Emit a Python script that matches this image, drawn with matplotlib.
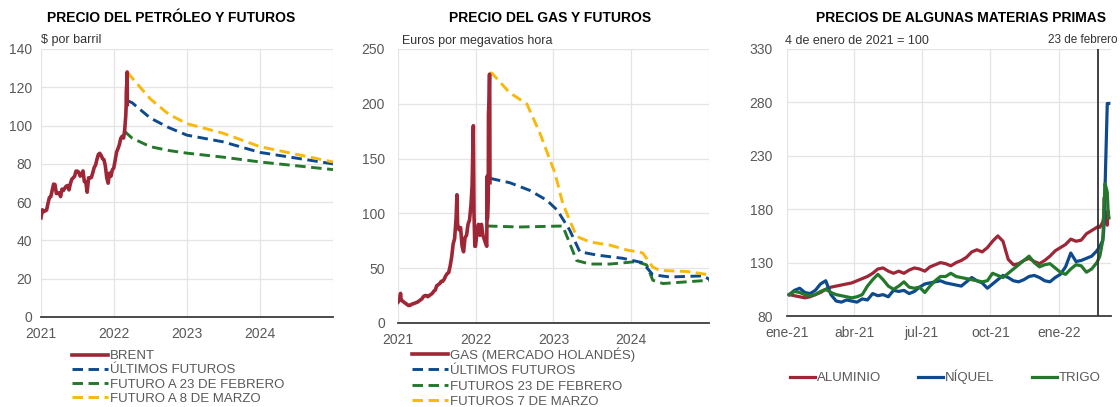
import numpy as np
import pandas as pd
import matplotlib
matplotlib.use("Agg")
import matplotlib.pyplot as plt

plt.rcParams['font.family'] = ['Liberation Sans', 'DejaVu Sans']

# colours
ROJO = '#9e2636'
AZUL = '#0d4a8e'
VERDE = '#24782c'
AMARILLO = '#f8b90c'
GRIS = '#595959'

# ---------------- petróleo ----------------
brent_fechas = [
    '2021-01-01', '2021-01-08', '2021-01-15', '2021-01-22', '2021-01-29', '2021-02-05',
    '2021-02-12', '2021-02-19', '2021-02-26', '2021-03-05', '2021-03-12', '2021-03-19',
    '2021-03-26', '2021-04-02', '2021-04-09', '2021-04-16', '2021-04-23', '2021-04-30',
    '2021-05-07', '2021-05-14', '2021-05-21', '2021-05-28', '2021-06-04', '2021-06-11',
    '2021-06-18', '2021-06-25', '2021-07-02', '2021-07-09', '2021-07-16', '2021-07-23',
    '2021-07-30', '2021-08-06', '2021-08-13', '2021-08-20', '2021-08-27', '2021-09-03',
    '2021-09-10', '2021-09-17', '2021-09-24', '2021-10-01', '2021-10-08', '2021-10-15',
    '2021-10-22', '2021-10-29', '2021-11-05', '2021-11-12', '2021-11-19', '2021-11-26',
    '2021-12-03', '2021-12-10', '2021-12-17', '2021-12-24', '2021-12-31', '2022-01-07',
    '2022-01-14', '2022-01-21', '2022-01-28', '2022-02-04', '2022-02-11', '2022-02-18',
    '2022-02-23', '2022-03-01', '2022-03-03', '2022-03-04', '2022-03-07', '2022-03-08',
    '2022-03-09']
brent = [
    51.8, 56.0, 55.1, 55.4, 55.9, 59.3, 62.4, 62.9, 66.1, 69.4, 69.2, 64.5,
    64.6, 64.9, 62.9, 66.8, 66.1, 67.3, 68.3, 68.7, 66.4, 69.6, 71.9, 72.7,
    73.5, 76.2, 76.2, 75.6, 73.6, 74.1, 76.3, 70.7, 70.6, 65.2, 72.7, 72.6,
    72.9, 75.3, 78.1, 79.3, 82.4, 84.9, 85.5, 84.4, 82.7, 82.2, 78.9, 72.7,
    69.9, 75.2, 73.5, 76.9, 77.8, 81.8, 86.1, 87.9, 90.0, 93.3, 94.4, 93.5,
    96.8, 105.0, 110.0, 118.0, 123.0, 128.0, 111.0]

fut_pet_fechas = ['2022-03-09', '2022-04-01', '2022-07-01', '2022-10-01', '2023-01-01',
                  '2023-07-01', '2024-01-01', '2024-07-01', '2025-01-01']
fut_pet_ultimos = [113, 112, 104, 99, 95, 91.5, 86, 83, 80]
fut_pet_8mar = [128, 125, 114, 106, 101, 96, 89, 85, 81]
fut_pet_23feb_fechas = ['2022-02-23', '2022-04-01', '2022-07-01', '2022-10-01', '2023-01-01',
                        '2023-07-01', '2024-01-01', '2024-07-01', '2025-01-01']
fut_pet_23feb = [97, 93.5, 89, 87, 85.6, 83.5, 81, 79, 77]

# ---------------- gas ----------------
gas_fechas = [
    '2021-01-01', '2021-01-08', '2021-01-13', '2021-01-15', '2021-01-22', '2021-01-29',
    '2021-02-05', '2021-02-12', '2021-02-19', '2021-02-26', '2021-03-05', '2021-03-12',
    '2021-03-19', '2021-03-26', '2021-04-02', '2021-04-09', '2021-04-16', '2021-04-23',
    '2021-04-30', '2021-05-07', '2021-05-14', '2021-05-21', '2021-05-28', '2021-06-04',
    '2021-06-11', '2021-06-18', '2021-06-25', '2021-07-02', '2021-07-09', '2021-07-16',
    '2021-07-23', '2021-07-30', '2021-08-06', '2021-08-13', '2021-08-20', '2021-08-27',
    '2021-09-03', '2021-09-10', '2021-09-17', '2021-09-24', '2021-10-01', '2021-10-05',
    '2021-10-08', '2021-10-15', '2021-10-22', '2021-10-29', '2021-11-05', '2021-11-12',
    '2021-11-19', '2021-11-26', '2021-12-03', '2021-12-10', '2021-12-15', '2021-12-21',
    '2021-12-24', '2021-12-28', '2021-12-31', '2022-01-07', '2022-01-14', '2022-01-21',
    '2022-01-28', '2022-02-04', '2022-02-11', '2022-02-18', '2022-02-22', '2022-02-24',
    '2022-02-25', '2022-03-01', '2022-03-02', '2022-03-03', '2022-03-04', '2022-03-07',
    '2022-03-08', '2022-03-09']
gas = [
    19, 21, 27, 22, 20, 19, 18, 17, 16, 16, 17, 17.5,
    18, 18.5, 19, 20, 21, 22, 24, 25, 25, 24, 25, 26,
    27, 29, 30, 34, 35, 36, 38, 38, 40, 43, 45, 46,
    52, 60, 72, 77, 96, 117, 90, 85, 87, 70, 65, 78,
    80, 90, 94, 108, 125, 180, 100, 70, 70, 83, 90, 80,
    90, 80, 76, 72, 70, 134, 95, 115, 190, 195, 200, 227,
    210, 128]

fut_gas_7mar_fechas = ['2022-03-07', '2022-03-18', '2022-06-10', '2022-08-29', '2022-10-30',
                       '2023-01-08', '2023-02-14', '2023-03-18', '2023-04-20', '2023-06-21',
                       '2023-09-24', '2023-12-13', '2024-02-24', '2024-04-12', '2024-05-15',
                       '2024-09-20', '2025-01-01']
fut_gas_7mar = [228, 228, 210, 200, 173, 137, 109, 94, 79, 74, 71, 66.6, 64, 51, 48, 47, 44]

fut_gas_ultimos_fechas = ['2022-03-09', '2022-06-10', '2022-09-12', '2022-12-01', '2023-01-19',
                          '2023-03-18', '2023-05-05', '2023-07-24', '2023-11-24', '2024-02-24',
                          '2024-04-12', '2024-07-01', '2024-12-05', '2025-01-01']
fut_gas_ultimos = [132, 128, 121, 112, 103, 85, 65, 62, 59, 55, 44, 42, 43, 40]

fut_gas_23feb_fechas = ['2022-02-23', '2022-07-27', '2023-02-14', '2023-03-18', '2023-04-20',
                        '2023-06-21', '2023-09-24', '2024-01-26', '2024-03-14', '2024-04-12',
                        '2024-05-30', '2024-09-20', '2025-01-01']
fut_gas_23feb = [88.5, 87.6, 88.5, 73, 57, 53.8, 53.8, 56, 53, 39, 36, 37.6, 39]

# ---------------- materias primas (4 ene 2021 = 100) ----------------
mp_fechas = [
    '2021-01-04', '2021-01-11', '2021-01-18', '2021-01-25', '2021-02-01', '2021-02-08',
    '2021-02-15', '2021-02-22', '2021-03-01', '2021-03-08', '2021-03-15', '2021-03-22',
    '2021-03-29', '2021-04-05', '2021-04-12', '2021-04-19', '2021-04-26', '2021-05-03',
    '2021-05-10', '2021-05-17', '2021-05-24', '2021-05-31', '2021-06-07', '2021-06-14',
    '2021-06-21', '2021-06-28', '2021-07-05', '2021-07-12', '2021-07-19', '2021-07-26',
    '2021-08-02', '2021-08-09', '2021-08-16', '2021-08-23', '2021-08-30', '2021-09-06',
    '2021-09-13', '2021-09-20', '2021-09-27', '2021-10-04', '2021-10-11', '2021-10-18',
    '2021-10-25', '2021-11-01', '2021-11-08', '2021-11-15', '2021-11-22', '2021-11-29',
    '2021-12-06', '2021-12-13', '2021-12-20', '2021-12-27', '2022-01-03', '2022-01-10',
    '2022-01-17', '2022-01-24', '2022-01-31', '2022-02-07', '2022-02-14', '2022-02-21',
    '2022-02-23', '2022-02-25', '2022-03-01', '2022-03-02', '2022-03-03', '2022-03-04',
    '2022-03-07', '2022-03-08', '2022-03-09']
aluminio = [
    100, 99, 98, 97, 98, 100, 102, 105, 107, 108, 109, 110,
    111, 113, 115, 117, 120, 124, 125, 122, 120, 122, 120, 123,
    125, 124, 122, 126, 128, 130, 129, 127, 130, 132, 135, 140,
    142, 140, 144, 150, 155, 150, 133, 128, 129, 132, 134, 131,
    129, 132, 136, 141, 144, 147, 152, 150, 151, 157, 160, 163,
    164, 163, 168, 172, 191, 175, 165, 178, 172]
niquel = [
    100, 104, 106, 102, 101, 104, 110, 113, 100, 94, 93, 95,
    94, 93, 96, 95, 101, 99, 100, 98, 104, 103, 104, 101,
    103, 107, 110, 111, 112, 113, 111, 110, 109, 108, 112, 116,
    113, 111, 106, 110, 114, 118, 116, 113, 112, 114, 117, 118,
    116, 113, 112, 116, 119, 126, 139, 131, 132, 134, 136, 141,
    143, 145, 151, 158, 170, 200, 279, 279, 279]
trigo = [
    100, 103, 102, 100, 99, 100, 103, 105, 102, 100, 99, 98,
    97, 98, 100, 108, 114, 119, 114, 108, 105, 108, 112, 107,
    106, 107, 102, 108, 113, 117, 117, 120, 117, 116, 115, 114,
    113, 112, 113, 120, 118, 116, 120, 124, 128, 132, 136, 130,
    126, 128, 129, 125, 121, 119, 124, 128, 127, 121, 124, 130,
    133, 136, 151, 170, 188, 204, 196, 180, 172]

fecha_linea = '2022-02-23'


def fd(lista):
    return pd.to_datetime(lista)


def estilo(ax, ymin, ymax, ystep, ypad):
    ax.set_ylim(ymin, ymax)
    ax.set_yticks(np.arange(ymin, ymax + 1, ystep))
    ax.grid(True, color='#e4e4e4', lw=0.9)
    ax.set_axisbelow(True)
    for s in ['top', 'right', 'left']:
        ax.spines[s].set_visible(False)
    ax.spines['bottom'].set_color('#3c3c3c')
    ax.spines['bottom'].set_linewidth(1.3)
    ax.spines['bottom'].set_zorder(5)
    ax.tick_params(axis='both', length=0, labelsize=10, labelcolor=GRIS)
    ax.tick_params(axis='y', pad=ypad)
    ax.tick_params(axis='x', pad=7)


def ejes_anuales(ax):
    ticks = fd(['2021-01-01', '2022-01-01', '2023-01-01', '2024-01-01', '2025-01-01'])
    ax.set_xticks(ticks)
    ax.set_xticklabels(['2021', '2022', '2023', '2024', ''])
    ax.set_xlim(ticks[0], ticks[-1])


fig = plt.figure(figsize=(11.2, 4.07), dpi=100)
W, H = 1120.0, 407.0


def caja(x0, x1, ytop, ybot):
    return [x0 / W, 1 - ybot / H, (x1 - x0) / W, (ybot - ytop) / H]


guion = (0, (3.6, 1.9))
orden = [3, 1, 0, 2]

# panel 1
ax1 = fig.add_axes(caja(41, 333, 49, 317))
estilo(ax1, 0, 140, 20, 6.5)
ejes_anuales(ax1)
ax1.plot(fd(fut_pet_23feb_fechas), fut_pet_23feb, color=VERDE, lw=2.1, ls=guion,
         label='FUTURO A 23 DE FEBRERO')
ax1.plot(fd(fut_pet_fechas), fut_pet_ultimos, color=AZUL, lw=2.1, ls=guion,
         label='ÚLTIMOS FUTUROS')
ax1.plot(fd(fut_pet_fechas), fut_pet_8mar, color=AMARILLO, lw=2.1, ls=guion,
         label='FUTURO A 8 DE MARZO')
ax1.plot(fd(brent_fechas), brent, color=ROJO, lw=2.6, label='BRENT')
h, l = ax1.get_legend_handles_labels()
fig.legend([h[i] for i in orden], [l[i] for i in orden], loc='upper left',
           bbox_to_anchor=(72 / W, 1 - 350 / H), frameon=False, fontsize=9.5,
           labelcolor=GRIS, handlelength=2.7, handletextpad=0.2, labelspacing=0.15,
           borderpad=0, borderaxespad=0)

# panel 2
ax2 = fig.add_axes(caja(398, 709, 49, 323))
estilo(ax2, 0, 250, 50, 9.5)
ejes_anuales(ax2)
ax2.plot(fd(fut_gas_23feb_fechas), fut_gas_23feb, color=VERDE, lw=2.1, ls=guion,
         label='FUTUROS 23 DE FEBRERO')
ax2.plot(fd(fut_gas_ultimos_fechas), fut_gas_ultimos, color=AZUL, lw=2.1, ls=guion,
         label='ÚLTIMOS FUTUROS')
ax2.plot(fd(fut_gas_7mar_fechas), fut_gas_7mar, color=AMARILLO, lw=2.1, ls=guion,
         label='FUTUROS 7 DE MARZO')
ax2.plot(fd(gas_fechas), gas, color=ROJO, lw=2.6, label='GAS (MERCADO HOLANDÉS)')
h, l = ax2.get_legend_handles_labels()
fig.legend([h[i] for i in orden], [l[i] for i in orden], loc='upper left',
           bbox_to_anchor=(412 / W, 1 - 347 / H), frameon=False, fontsize=9.5,
           labelcolor=GRIS, handlelength=2.7, handletextpad=0.2, labelspacing=0.25,
           borderpad=0, borderaxespad=0)

# panel 3
ax3 = fig.add_axes(caja(787, 1111, 49, 316))
estilo(ax3, 80, 330, 50, 10)
t3 = fd(['2021-01-01', '2021-04-01', '2021-07-01', '2021-10-01', '2022-01-01'])
ax3.set_xticks(t3)
ax3.set_xticklabels(['ene-21', 'abr-21', 'jul-21', 'oct-21', 'ene-22'])
ax3.set_xlim(pd.Timestamp('2021-01-01'), pd.Timestamp('2022-03-12'))
ax3.plot(fd(mp_fechas), aluminio, color=ROJO, lw=2.3, label='ALUMINIO')
ax3.plot(fd(mp_fechas), niquel, color=AZUL, lw=2.3, label='NÍQUEL')
ax3.plot(fd(mp_fechas), trigo, color=VERDE, lw=2.3, label='TRIGO')
ax3.axvline(pd.Timestamp(fecha_linea), color='#333333', lw=1.3, zorder=6)
ax3.annotate('23 de febrero', xy=(pd.Timestamp(fecha_linea), 330), xytext=(14, 2),
             textcoords='offset points', ha='right', va='bottom', fontsize=8.5,
             color='#333333', annotation_clip=False)
fig.legend(*ax3.get_legend_handles_labels(), loc='center left',
           bbox_to_anchor=(790 / W, 1 - 377 / H), frameon=False, fontsize=9.5,
           labelcolor=GRIS, ncol=3, handlelength=1.9, handletextpad=0.15,
           columnspacing=2.8, borderpad=0, borderaxespad=0)

# titles and units
fig.text(171 / W, 1 - 18 / H, 'PRECIO DEL PETRÓLEO Y FUTUROS', ha='center', va='center',
         fontsize=10, fontweight='bold')
fig.text(550 / W, 1 - 18 / H, 'PRECIO DEL GAS Y FUTUROS', ha='center', va='center',
         fontsize=10, fontweight='bold')
fig.text(961 / W, 1 - 18 / H, 'PRECIOS DE ALGUNAS MATERIAS PRIMAS', ha='center',
         va='center', fontsize=10, fontweight='bold')
fig.text(41 / W, 1 - 40 / H, '$ por barril', ha='left', va='center', fontsize=9, color='#333333')
fig.text(402 / W, 1 - 41 / H, 'Euros por megavatios hora', ha='left', va='center',
         fontsize=9, color='#333333')
fig.text(785 / W, 1 - 41 / H, '4 de enero de 2021 = 100', ha='left', va='center',
         fontsize=9, color='#333333')

fig.savefig('out.png', dpi=100)
